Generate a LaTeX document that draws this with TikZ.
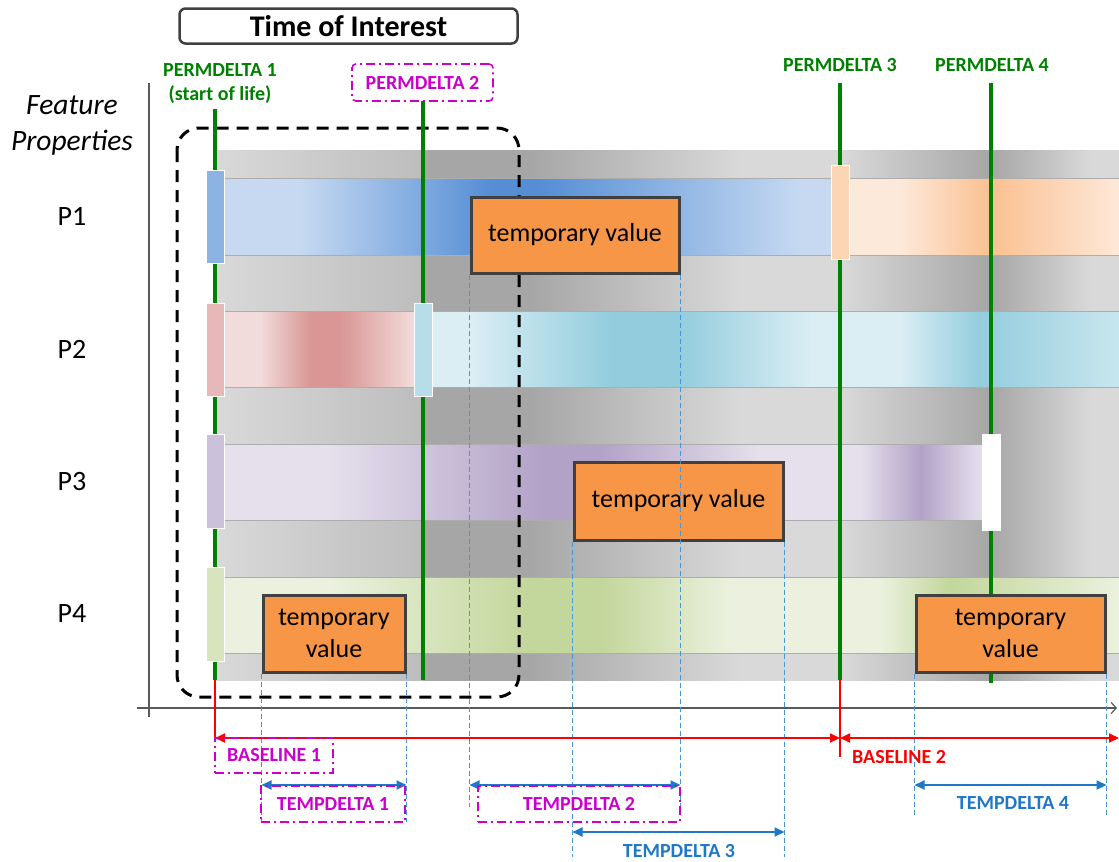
\documentclass[tikz,border=0pt]{standalone}
\usepackage{fontspec}
\setmainfont{Carlito}
\usetikzlibrary{positioning,arrows.meta}

\definecolor{permgreen}{HTML}{008000}
\definecolor{deltamag}{HTML}{CC00CC}
\definecolor{basered}{HTML}{FF0000}
\definecolor{tempblue}{HTML}{1F77C8}
\definecolor{guideblue}{HTML}{4A95D6}
\definecolor{tvorange}{HTML}{F79646}
\definecolor{tvborder}{HTML}{404040}
\definecolor{axisgray}{HTML}{595959}
\definecolor{grayL}{HTML}{D9D9D9}
\definecolor{grayM}{HTML}{BDBDBD}
\definecolor{grayD}{HTML}{A6A6A6}
\definecolor{blueL}{HTML}{C6D9F1}
\definecolor{blueD}{HTML}{558ED5}
\definecolor{blueM}{HTML}{8DB3E2}
\definecolor{orangeL}{HTML}{FDE9D9}
\definecolor{orangeD}{HTML}{FAC090}
\definecolor{orangeM}{HTML}{FCD5B5}
\definecolor{pinkL}{HTML}{F2DCDB}
\definecolor{pinkD}{HTML}{D99694}
\definecolor{pinkM}{HTML}{E6B9B8}
\definecolor{cyanL}{HTML}{DBEEF4}
\definecolor{cyanD}{HTML}{93CDDD}
\definecolor{cyanR}{HTML}{C8E6EE}
\definecolor{cyanM}{HTML}{B7DDE8}
\definecolor{lilacL}{HTML}{E5E0EC}
\definecolor{lilacD}{HTML}{B3A2C7}
\definecolor{lilacM}{HTML}{CCC1DA}
\definecolor{greenL}{HTML}{EBF1DE}
\definecolor{greenD}{HTML}{C3D69B}
\definecolor{greenM}{HTML}{D7E4BD}

\begin{document}
\begin{tikzpicture}[
        x=1pt, y=-1pt,
        font=\fontsize{20}{24}\selectfont,
        >={Triangle[length=10pt, width=9pt]},
        perm/.style={draw=permgreen, line width=4pt},
        permlbl/.style={text=permgreen, font=\fontsize{20}{24}\selectfont\bfseries,
                        align=center, inner sep=0pt},
        deltabox/.style={draw=deltamag, line width=1.6pt, text=deltamag, inner sep=0pt,
                         dash pattern=on 9pt off 4pt on 2pt off 4pt,
                         font=\fontsize{20}{24}\selectfont\bfseries},
        tvbox/.style={draw=tvborder, fill=tvorange, line width=3pt, align=center,
                      inner sep=0pt, font=\fontsize{26}{32}\selectfont},
        permmark/.style={draw=white, line width=0.8pt},
        laneline/.style={draw=black!32, line width=1pt},
        tvguide/.style={draw=guideblue, line width=0.9pt, dash pattern=on 5pt off 3pt},
        tempdelta/.style={<->, draw=tempblue, line width=2pt},
        baseln/.style={<->, draw=basered, line width=2pt},
        lanelbl/.style={font=\fontsize{28}{36}\selectfont, align=center},
        dlbl/.style={font=\fontsize{20}{24}\selectfont\bfseries},
    ]
    \useasboundingbox (0,0) rectangle (1119,862);

    % gray background of the properties
    \foreach \xa/\xb/\ca/\cb in {215/423/grayL/grayM, 423/530/grayD/grayD, 530/740/grayD/grayL,
                                 740/840/grayL/grayL, 840/990/grayL/grayD, 990/1090/grayD/grayL,
                                 1090/1119/grayL/grayL}
        \shade[left color=\ca, right color=\cb] (\xa,150) rectangle (\xb+0.6,680);

    % P1
    \foreach \xa/\xb/\ca/\cb in {224/300/blueL/blueL, 300/490/blueL/blueD, 490/540/blueD/blueD,
                                 540/800/blueD/blueL, 800/831/blueL/blueL,
                                 849/900/orangeL/orangeL, 900/990/orangeL/orangeD,
                                 990/1119/orangeD/orangeL}
        \shade[left color=\ca, right color=\cb] (\xa,178) rectangle (\xb+0.6,255);
    % P2
    \foreach \xa/\xb/\ca/\cb in {224/260/pinkL/pinkL, 260/310/pinkL/pinkD, 310/340/pinkD/pinkD,
                                 340/414/pinkD/pinkL, 433/470/cyanL/cyanL, 470/610/cyanL/cyanD,
                                 610/680/cyanD/cyanD, 680/812/cyanD/cyanL, 812/900/cyanL/cyanL,
                                 900/979/cyanL/cyanD, 979/1119/cyanD/cyanR}
        \shade[left color=\ca, right color=\cb] (\xa,311) rectangle (\xb+0.6,387);
    % P3
    \foreach \xa/\xb/\ca/\cb in {224/330/lilacL/lilacL, 330/540/lilacL/lilacD, 540/600/lilacD/lilacD,
                                 600/760/lilacD/lilacL, 760/860/lilacL/lilacL,
                                 860/920/lilacL/lilacD, 920/982/lilacD/lilacL}
        \shade[left color=\ca, right color=\cb] (\xa,444) rectangle (\xb+0.6,520);
    % P4
    \foreach \xa/\xb/\ca/\cb in {224/330/greenL/greenL, 330/530/greenL/greenD, 530/600/greenD/greenD,
                                 600/730/greenD/greenL, 730/880/greenL/greenL,
                                 880/950/greenL/greenD, 950/1119/greenD/greenL}
        \shade[left color=\ca, right color=\cb] (\xa,577) rectangle (\xb+0.6,653);

    \foreach \ya/\yb/\xe in {178/255/1119, 311/387/1119, 444/520/982, 577/653/1119}
        \draw[laneline] (224,\ya) -- (\xe,\ya) (224,\yb) -- (\xe,\yb);

    % time of interest
    \node[draw=tvborder, line width=2.5pt, rounded corners=6pt, fill=white,
          minimum width=338, minimum height=35, inner sep=0pt,
          font=\fontsize{30}{32}\selectfont\bfseries] (toi) at (348.5,26) {Time of Interest};
    \draw[line width=3pt, dash pattern=on 12pt off 8pt, rounded corners=22pt]
        (177,128) rectangle (519,697);

    % permanent deltas
    \node[permlbl] (pd1lbl) at (220,84) {PERMDELTA 1\\(start of life)};
    \node[deltabox, rounded corners=4pt, minimum width=141, minimum height=37]
        (pd2lbl) at (422.5,82.5) {PERMDELTA 2};
    \node[permlbl] (pd3lbl) at (840,65) {PERMDELTA 3};
    \node[permlbl] (pd4lbl) at (992,65) {PERMDELTA 4};

    \coordinate (pd1top) at (215,109);  \coordinate (pd1bot) at (215,680);
    \coordinate (pd2top) at (423,101);  \coordinate (pd2bot) at (423,680);
    \coordinate (pd3top) at (840,83);   \coordinate (pd3bot) at (840,680);
    \coordinate (pd4top) at (991,83);   \coordinate (pd4bot) at (991,683);
    \draw[perm] (pd1top) -- (pd1bot);
    \draw[perm] (pd2top) -- (pd2bot);
    \draw[perm] (pd3top) -- (pd3bot);
    \draw[perm] (pd4top) -- (pd4bot);

    \foreach \xa/\ya/\yb/\c in {206/170/263/blueM, 206/303/396/pinkM, 206/434/528/lilacM,
                                206/567/661/greenM, 831/165/259/orangeM, 414/303/396/cyanM,
                                982/434/530/white}
        \filldraw[permmark, fill=\c] (\xa,\ya) rectangle ++(18.5,\yb-\ya);

    % axes
    \draw[axisgray, line width=1.2pt] (149,83) -- (149,717);
    \draw[axisgray, line width=1.2pt, -{Straight Barb[length=5pt, width=11pt]}]
        (137,708) -- (1117,708);

    \node[lanelbl, font=\fontsize{29.5}{36}\selectfont\itshape] (featlbl) at (72,125)
        {Feature\\Properties};
    \foreach \ya/\name in {216/P1, 349/P2, 482/P3, 614/P4}
        \node[lanelbl] (lane\name) at (72,\ya) {\name};

    % temporary values
    \node[tvbox, minimum width=208, minimum height=76] (tv1) at (575,235) {temporary value};
    \node[tvbox, minimum width=209, minimum height=78] (tv2) at (678.5,501) {temporary value};
    \node[tvbox, minimum width=142, minimum height=77] (tv3) at (334,633.5) {temporary\\value};
    \node[tvbox, minimum width=189, minimum height=77] (tv4) at (1010.5,633.5) {temporary\\value};

    \draw[tvguide] (tv1.south west) -- ++(0,532);
    \draw[tvguide] (tv1.south east) -- ++(0,532);
    \draw[tvguide] (tv2.south west) -- ++(0,315);
    \draw[tvguide] (tv2.south east) -- ++(0,315);
    \draw[tvguide] (tv3.south west) -- ++(0,148);
    \draw[tvguide] (tv3.south east) -- ++(0,148);
    \draw[tvguide] (tv4.south west) -- ++(0,143);
    \draw[tvguide] (tv4.south east) -- ++(0,143);

    % baselines
    \coordinate (bl0) at (215,738);
    \coordinate (bl1) at (840,738);
    \coordinate (bl2) at (1119,738);
    \draw[basered, line width=1.2pt] (pd1bot) -- (bl0);
    \draw[basered, line width=1.2pt] (pd3bot) -- (840,757);
    \draw[baseln] (bl0) -- (bl1);
    \draw[baseln] (bl1) -- (bl2);
    \node[deltabox, minimum width=118, minimum height=35] (bl1lbl) at (274,755.5) {BASELINE 1};
    \node[dlbl, text=basered] (bl2lbl) at (899,757) {BASELINE 2};

    % temporary deltas
    \coordinate (rowA) at (0,785);
    \coordinate (rowB) at (0,832);
    \draw[tempdelta] (tv3.south west |- rowA) -- (tv3.south east |- rowA);
    \draw[tempdelta] (tv1.south west |- rowA) -- (tv1.south east |- rowA);
    \draw[tempdelta] (tv2.south west |- rowB) -- (tv2.south east |- rowB);
    \draw[tempdelta] (tv4.south west |- rowA) -- (tv4.south east |- rowA);
    \node[deltabox, minimum width=144, minimum height=36] (td1lbl) at (333,804) {TEMPDELTA 1};
    \node[deltabox, minimum width=202, minimum height=36] (td2lbl) at (579,804) {TEMPDELTA 2};
    \node[dlbl, text=tempblue] (td3lbl) at (679,851) {TEMPDELTA 3};
    \node[dlbl, text=tempblue] (td4lbl) at (1013,803) {TEMPDELTA 4};
\end{tikzpicture}
\end{document}
